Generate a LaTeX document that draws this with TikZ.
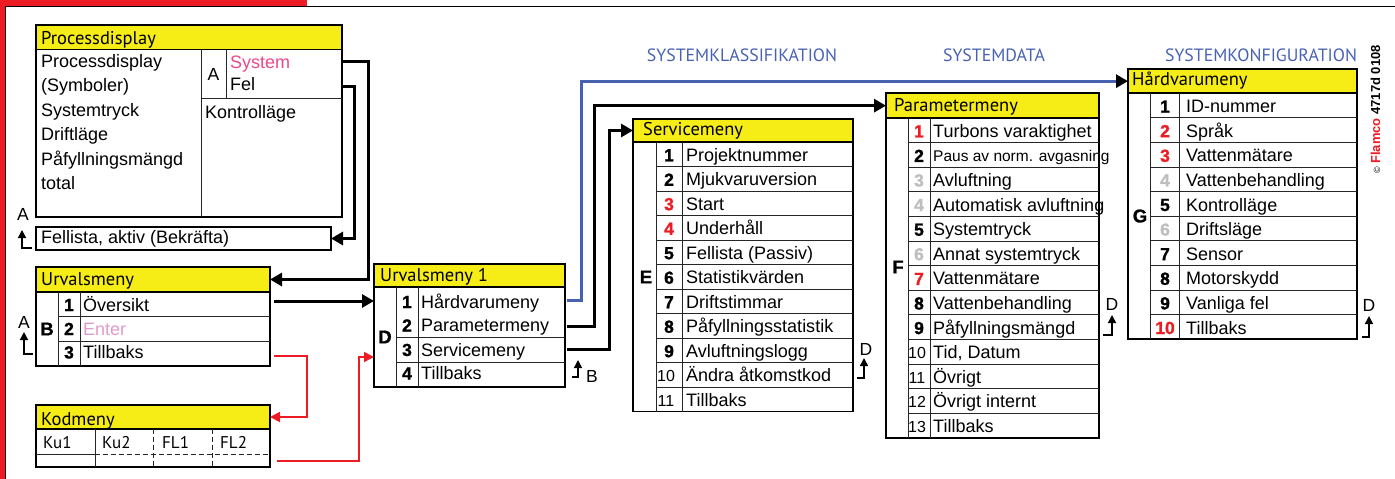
\documentclass[tikz,border=0pt]{standalone}
\usepackage{fontspec}
\setmainfont{Liberation Sans}
\newfontfamily\myr{PT Sans}
\newfontfamily\blk[FakeBold=1.2]{Liberation Sans Bold}
\usetikzlibrary{arrows.meta}
\definecolor{hy}{RGB}{246,236,22}
\definecolor{fred}{RGB}{237,28,36}
\definecolor{fpink}{RGB}{232,72,140}
\definecolor{fpinkl}{RGB}{222,155,205}
\definecolor{fblue}{RGB}{72,98,178}
\definecolor{fgray}{RGB}{190,190,190}
\tikzset{
 box/.style={draw=black, line width=1.8pt, inner sep=0pt, outer sep=0pt, anchor=north west},
 hdr/.style={draw=black, fill=hy, line width=1.8pt, inner sep=0pt, outer sep=0pt, anchor=north west},
 thin/.style={draw=black!85, line width=0.9pt},
 tx/.style={inner sep=0pt, anchor=base west, font=\fontsize{18}{20}\selectfont},
 txs/.style={inner sep=0pt, anchor=base west, font=\fontsize{15.5}{18}\selectfont},
 ht/.style={inner sep=0pt, anchor=base west, font=\myr\fontsize{18.5}{20}\selectfont},
 nb/.style={inner sep=0pt, anchor=base, font=\blk\fontsize{17.5}{20}\selectfont},
 nr/.style={inner sep=0pt, anchor=base, font=\fontsize{16}{18}\selectfont},
 lb/.style={inner sep=0pt, anchor=center, font=\blk\fontsize{18.5}{20}\selectfont},
 sm/.style={inner sep=0pt, anchor=base, font=\fontsize{17.5}{18}\selectfont},
 title/.style={inner sep=0pt, anchor=base, font=\myr\fontsize{17.8}{18}\selectfont, text=fblue},
 kconn/.style={line width=3pt, -{Triangle[length=12pt,width=13pt]}},
 bconn/.style={draw=fblue, line width=3pt, -{Triangle[length=12pt,width=13pt,color=black]}},
 rconn/.style={draw=fred, line width=1.8pt, -{Triangle[length=10pt,width=10pt]}},
 ret/.style={line width=1.5pt, -{Triangle[length=8pt,width=8pt]}},
}
\begin{document}
\begin{tikzpicture}[x=1pt,y=-1pt]
\useasboundingbox (0,0) rectangle (1395,479);
% frame
\fill[fred] (0,0) rectangle (5,479);
\fill[fred] (0,0) rectangle (307,5.5);
\draw[line width=1pt] (5.5,479) -- (5.5,6.3) -- (1395,6.3);

% titles
\node[title] (t1) at (742,61.7) {SYSTEMKLASSIFIKATION};
\node[title] (t2) at (994,61.7) {SYSTEMDATA};
\node[title] (t3) at (1261,61.7) {SYSTEMKONFIGURATION};
\node[rotate=90, anchor=base, inner sep=0pt, font=\bfseries\fontsize{13}{14}\selectfont] (copy) at (1380,109.5) {{\fontsize{9}{10}\mdseries ©}\ \textcolor{fred}{Flamco} 4717d 0108};

% Processdisplay
\node[hdr, minimum width=306, minimum height=24.5] (pdH) at (36,25) {};
\node[box, minimum width=306, minimum height=167.5] (pdB) at (36,49.5) {};
\node[ht] (pdT) at (41,44) {Processdisplay};
\draw[thin] (201,49.5) -- (201,217);
\draw[thin] (201,98) -- (342,98);
\draw[thin] (226,49.5) -- (226,98);
\foreach \t [count=\i] in {Processdisplay,(Symboler),Systemtryck,Driftläge,Påfyllningsmängd,total}
  \node[tx] (pdl\i) at (41,{67+(\i-1)*24.5}) {\t};
\node[sm] (pdA) at (213.5,80) {A};
\node[tx, text=fpink] (pdSys) at (230,68) {System};
\node[tx] (pdFel) at (230,90.5) {Fel};
\node[tx] (pdKon) at (205,118) {Kontrolläge};
\node[box, minimum width=295, minimum height=23] (fel) at (36,227) {};
\node[tx] (felT) at (41,243.5) {Fellista, aktiv (Bekräfta)};
\node[sm] (retA1) at (23,220) {A};
\draw[ret] (32,248) -- (22,248) -- (22,230);

% Urvalsmeny
\node[hdr, minimum width=234, minimum height=25] (urvH) at (36,267) {};
\node[box, minimum width=234, minimum height=74] (urvB) at (36,292) {};
\node[ht] (urvT) at (41,285) {Urvalsmeny};
\draw[thin] (58,292) -- (58,366);
\draw[thin] (80,292) -- (80,366);
\draw[thin] (58,316.7) -- (270,316.7);
\draw[thin] (58,341.3) -- (270,341.3);
\node[lb] (urvL) at (47,329) {B};
\node[nb] (urvn1) at (69,311) {1};
\node[nb] (urvn2) at (69,335) {2};
\node[nb] (urvn3) at (69,358.5) {3};
\node[tx] (urvt1) at (83,311) {Översikt};
\node[tx, text=fpinkl] (urvt2) at (83,335) {Enter};
\node[tx] (urvt3) at (83,358.5) {Tillbaks};
\node[sm] (retA2) at (24,328) {A};
\draw[ret] (33,354) -- (24,354) -- (24,332);

% Kodmeny
\node[hdr, minimum width=234, minimum height=24] (kodH) at (36,405) {};
\node[box, minimum width=234, minimum height=38] (kodB) at (36,429) {};
\node[ht] (kodT) at (41,425) {Kodmeny};
\draw[thin] (95,429) -- (95,467);
\draw[thin, dash pattern=on 5pt off 3pt] (153,429) -- (153,467);
\draw[thin, dash pattern=on 5pt off 3pt] (212,429) -- (212,467);
\draw[thin] (36,454) -- (95,454);
\draw[thin, dash pattern=on 5pt off 3pt] (95,454) -- (270,454);
\node[ht, font=\myr\fontsize{17}{18}\selectfont] (ku1) at (43,448) {Ku1};
\node[ht, font=\myr\fontsize{17}{18}\selectfont] (ku2) at (102,448) {Ku2};
\node[ht, font=\myr\fontsize{17}{18}\selectfont] (fl1) at (162,448) {FL1};
\node[ht, font=\myr\fontsize{17}{18}\selectfont] (fl2) at (220,448) {FL2};

% Urvalsmeny 1
\node[hdr, minimum width=191, minimum height=23] (u1H) at (374,264) {};
\node[box, minimum width=191, minimum height=99.7] (u1B) at (374,287) {};
\node[ht] (u1T) at (380,281) {Urvalsmeny 1};
\draw[thin] (396,287) -- (396,386.7);
\draw[thin] (418,287) -- (418,386.7);
\draw[thin] (396,337) -- (565,337);
\draw[thin] (396,362.5) -- (565,362.5);
\node[lb] (u1L) at (385,337) {D};
\foreach \t [count=\i] in {Hårdvarumeny,Parametermeny,Servicemeny,Tillbaks}{
  \pgfmathsetmacro{\yy}{{308,331.5,356,379.5}[\i-1]}
  \node[nb] (u1n\i) at (407,\yy) {\i};
  \node[tx] (u1t\i) at (421,\yy) {\t};
}
\node[sm] (retB) at (592,382) {B};
\draw[ret] (572,377) -- (578,377) -- (578,360);

% Servicemeny
\node[hdr, minimum width=220, minimum height=23] (svH) at (633,119) {};
\node[box, minimum width=220, minimum height=269.5] (svB) at (633,142) {};
\node[ht] (svT) at (643,135) {Servicemeny};
\draw[thin] (656,142) -- (656,411.5);
\draw[thin] (682,142) -- (682,411.5);
\foreach \i in {1,...,10} \draw[thin] (656,{142+\i*24.5}) -- (853,{142+\i*24.5});
\node[lb] (svL) at (646,277) {E};
\foreach \t [count=\i] in {Projektnummer,Mjukvaruversion,Start,Underhåll,Fellista (Passiv),Statistikvärden,Driftstimmar,Påfyllningsstatistik,Avluftningslogg,Ändra åtkomstkod,Tillbaks}
  \node[tx] (svt\i) at (686,{142+(\i-0.5)*24.5+7}) {\t};
\foreach \n/\c in {1/black,2/black,3/fred,4/fred,5/black,6/black,7/black,8/black,9/black}
  \node[nb, text=\c] (svn\n) at (669,{142+(\n-0.5)*24.5+7}) {\n};
\node[nr] (svn10) at (666,{142+9.5*24.5+7}) {10};
\node[nr] (svn11) at (666,{142+10.5*24.5+7}) {11};
\node[sm] (retD1) at (866,355) {D};
\draw[ret] (857,378) -- (864,378) -- (864,358);

% Parametermeny
\node[hdr, minimum width=213, minimum height=24.7] (paH) at (886,93.3) {};
\node[box, minimum width=213, minimum height=319.8] (paB) at (886,118) {};
\node[ht] (paT) at (894,111.7) {Parametermeny};
\draw[thin] (908,118) -- (908,437.8);
\draw[thin] (930,118) -- (930,437.8);
\foreach \i in {1,...,12} \draw[thin] (908,{118+\i*24.6}) -- (1099,{118+\i*24.6});
\node[lb] (paL) at (898,267) {F};
\foreach \t/\s [count=\i] in {Turbons varaktighet/tx,Paus av norm. avgasning/txs,Avluftning/tx,Automatisk avluftning/tx,Systemtryck/tx,Annat systemtryck/tx,Vattenmätare/tx,Vattenbehandling/tx,Påfyllningsmängd/tx,{Tid, Datum}/tx,Övrigt/tx,Övrigt internt/tx,Tillbaks/tx}
  \node[\s] (pat\i) at (933,{118+(\i-0.5)*24.6+7}) {\t};
\foreach \n/\c in {1/fred,2/black,3/fgray,4/fgray,5/black,6/fgray,7/fred,8/black,9/black}
  \node[nb, text=\c] (pan\n) at (919,{118+(\n-0.5)*24.6+7}) {\n};
\foreach \n in {10,11,12,13}
  \node[nr] (pan\n) at (917,{118+(\n-0.5)*24.6+7}) {\n};
\node[sm] (retD2) at (1112,310) {D};
\draw[ret] (1103,335) -- (1112,335) -- (1112,315);

% Hardvarumeny
\node[hdr, minimum width=229, minimum height=24.3] (hwH) at (1128,69) {};
\node[box, minimum width=229, minimum height=246] (hwB) at (1128,93.3) {};
\node[ht] (hwT) at (1132,85) {Hårdvarumeny};
\draw[thin] (1150,93.3) -- (1150,339.3);
\draw[thin] (1179,93.3) -- (1179,339.3);
\foreach \i in {1,...,9} \draw[thin] (1150,{93.3+\i*24.6}) -- (1357,{93.3+\i*24.6});
\node[lb] (hwL) at (1140,216) {G};
\foreach \t [count=\i] in {ID-nummer,Språk,Vattenmätare,Vattenbehandling,Kontrolläge,Driftsläge,Sensor,Motorskydd,Vanliga fel,Tillbaks}
  \node[tx] (hwt\i) at (1186,{93.3+(\i-0.5)*24.6+7}) {\t};
\foreach \n/\c in {1/black,2/fred,3/fred,4/fgray,5/black,6/fgray,7/black,8/black,9/black,10/fred}
  \node[nb, text=\c] (hwn\n) at (1165,{93.3+(\n-0.5)*24.6+7}) {\n};
\node[sm] (retD3) at (1369,311.5) {D};
\draw[ret] (1362,337) -- (1369,337) -- (1369,316);

% connector coordinates
\coordinate (sysOut) at (342,61.5);
\coordinate (felOut) at (342,86);
\coordinate (urvOut) at (274,301);
\coordinate (tbOut) at (274,356);
\coordinate (kodOut) at (277,461);
\coordinate (u1red) at (374,357);
\coordinate (hwOut) at (567,300);
\coordinate (paOut) at (567,326);
\coordinate (svOut) at (567,349);

% connectors
\draw[kconn] (sysOut) -- ++(26,0) |- (urvH.east);
\draw[kconn] (felOut) -- ++(12,0) |- (fel.east);
\draw[kconn] (urvOut) -- (urvOut -| u1B.west);
\draw[rconn] (tbOut) -- ++(33,0) |- (kodH.east);
\draw[rconn] (kodOut) -- ++(82,0) |- (u1red);
\draw[bconn] (hwOut) -- ++(14,0) |- (hwH.west);
\draw[kconn] (paOut) -- ++(27,0) |- (paH.west);
\draw[kconn] (svOut) -- ++(42,0) |- (svH.west);
\end{tikzpicture}
\end{document}
